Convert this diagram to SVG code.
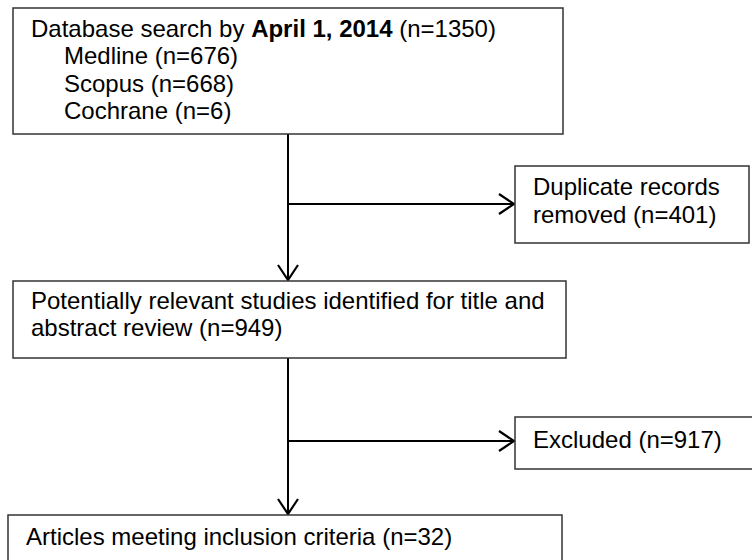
<svg xmlns="http://www.w3.org/2000/svg" width="752" height="560" viewBox="0 0 752 560">
<defs>
<style>
.box{fill:#fff;stroke:#333;stroke-width:1.5}
.t{font-family:"Liberation Sans",Arial,sans-serif;font-size:24px;fill:#000}
.c{fill:none;stroke:#000;stroke-width:2}
</style>
<marker id="ah" markerWidth="20" markerHeight="24" refX="16" refY="12" orient="auto" markerUnits="userSpaceOnUse">
<path d="M1,2 L16,12 L1,22" fill="none" stroke="#000" stroke-width="2.2"/>
</marker>
</defs>
<rect width="752" height="560" fill="#fff"/>
<g id="connectors">
<line class="c" x1="288" y1="134" x2="288" y2="280" marker-end="url(#ah)"/>
<line class="c" x1="288" y1="204" x2="514" y2="204" marker-end="url(#ah)"/>
<line class="c" x1="288" y1="358" x2="288" y2="514" marker-end="url(#ah)"/>
<line class="c" x1="288" y1="441" x2="514" y2="441" marker-end="url(#ah)"/>
</g>
<g id="n1">
<rect class="box" x="13" y="8" width="550" height="126"/>
<text class="t" x="31" y="37">Database search by <tspan font-weight="bold">April 1, 2014</tspan> (n=1350)</text>
<text class="t" x="64" y="64">Medline (n=676)</text>
<text class="t" x="64" y="92">Scopus (n=668)</text>
<text class="t" x="64" y="119">Cochrane (n=6)</text>
</g>
<g id="n2">
<rect class="box" x="515" y="166" width="234" height="77"/>
<text class="t" x="533" y="195">Duplicate records</text>
<text class="t" x="533" y="223">removed (n=401)</text>
</g>
<g id="n3">
<rect class="box" x="13" y="281" width="553" height="77"/>
<text class="t" x="31" y="309">Potentially relevant studies identified for title and</text>
<text class="t" x="31" y="336">abstract review (n=949)</text>
</g>
<g id="n4">
<rect class="box" x="515" y="417" width="240" height="52"/>
<text class="t" x="533" y="448">Excluded (n=917)</text>
</g>
<g id="n5">
<rect class="box" x="8" y="515" width="554" height="60"/>
<text class="t" x="26" y="545">Articles meeting inclusion criteria (n=32)</text>
</g>
</svg>
